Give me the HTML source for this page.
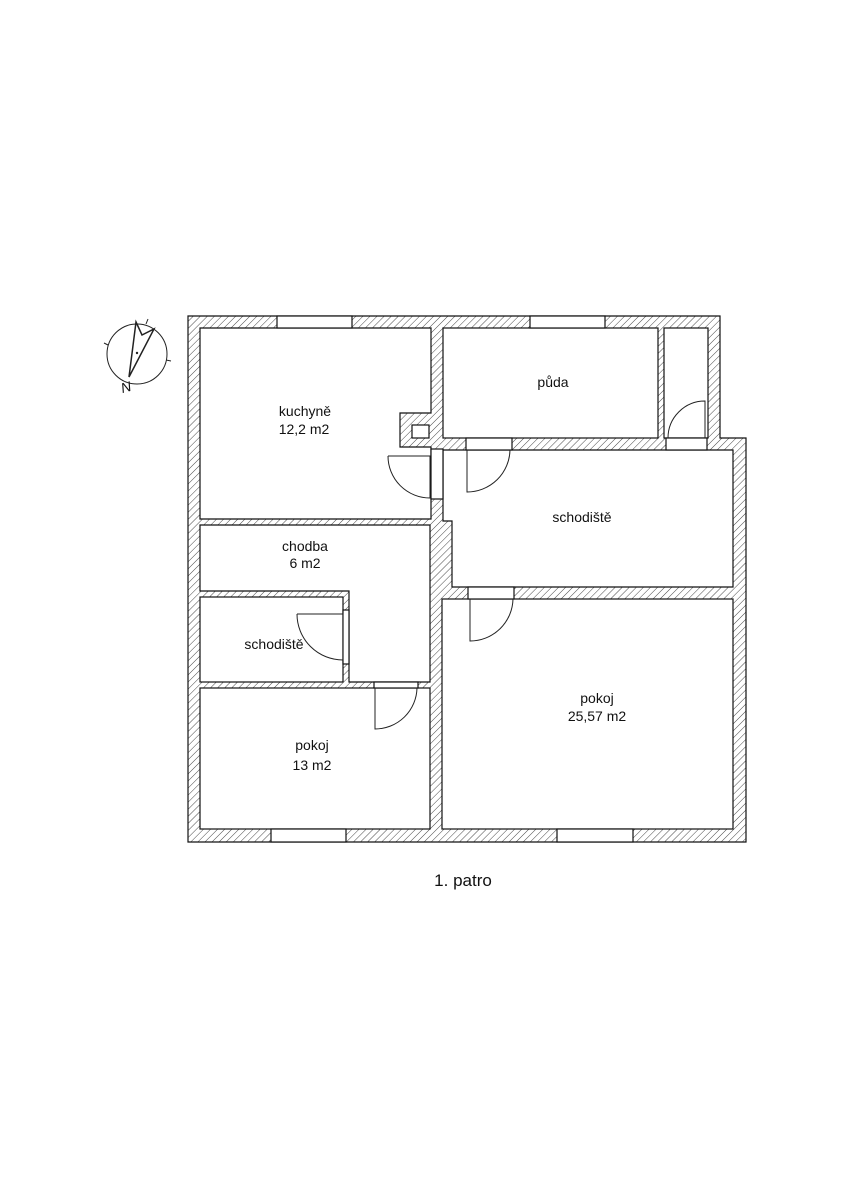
<!DOCTYPE html>
<html><head><meta charset="utf-8"><style>
html,body{margin:0;padding:0;background:#fff;width:848px;height:1200px;overflow:hidden}
svg{display:block}
text{font-family:"Liberation Sans",sans-serif;fill:#111}
</style></head><body>
<svg width="848" height="1200" viewBox="0 0 848 1200" xmlns="http://www.w3.org/2000/svg">
<defs>
<pattern id="h" patternUnits="userSpaceOnUse" width="5" height="5" patternTransform="rotate(45)">
<rect width="5" height="5" fill="#fff"/>
<line x1="0" y1="0" x2="0" y2="5" stroke="#333" stroke-width="0.9"/>
</pattern>
</defs>
<g stroke="#111" stroke-width="1.2">
<!-- outer -->
<polygon points="188,316 720,316 720,438 746,438 746,842 188,842" fill="url(#h)"/>
<!-- rooms -->
<polygon points="200,328 431,328 431,413 400,413 400,447 431,447 431,519 200,519" fill="#fff"/>
<rect x="412" y="425" width="17" height="13" fill="#fff"/>
<rect x="443" y="328" width="215" height="110" fill="#fff"/>
<rect x="664" y="328" width="44" height="110" fill="#fff"/>
<polygon points="443,450 733,450 733,587 452,587 452,521 443,521" fill="#fff"/>
<rect x="442" y="599" width="291" height="230" fill="#fff"/>
<polygon points="200,525 430,525 430,682 349,682 349,591 200,591" fill="#fff"/>
<rect x="200" y="597" width="143" height="85" fill="#fff"/>
<rect x="200" y="688" width="230" height="141" fill="#fff"/>
<!-- windows -->
<rect x="277" y="316" width="75" height="12" fill="#fff"/>
<rect x="530" y="316" width="75" height="12" fill="#fff"/>
<rect x="271" y="829" width="75" height="13" fill="#fff"/>
<rect x="557" y="829" width="76" height="13" fill="#fff"/>
<!-- door openings -->
<rect x="431" y="449" width="12" height="50" fill="#fff"/>
<rect x="466" y="438" width="46" height="12" fill="#fff"/>
<rect x="666" y="438" width="41" height="12" fill="#fff"/>
<rect x="468" y="587" width="46" height="12" fill="#fff"/>
<rect x="343" y="610" width="6" height="54" fill="#fff"/>
<rect x="374" y="682" width="44" height="6" fill="#fff"/>
</g>
<!-- doors -->
<g stroke="#222" stroke-width="1" fill="none">
<path d="M388,456 L430,456 L430,498 A42,42 0 0 1 388,456"/>
<path d="M467,450 L467,492 A43,43 0 0 0 510,450"/>
<path d="M705,438 L705,401 A37,37 0 0 0 668,438"/>
<path d="M470,599 L470,641 A43,43 0 0 0 513,599"/>
<path d="M297,614 L343,614 L343,660 A46,46 0 0 1 297,614"/>
<path d="M375,688 L375,729 A42,42 0 0 0 417,688"/>
</g>
<!-- compass -->
<g stroke="#222" fill="none" stroke-width="1">
<circle cx="137" cy="354" r="30"/>
<line x1="146" y1="324" x2="148" y2="319"/>
<line x1="108" y1="345" x2="104" y2="343"/>
<line x1="166" y1="360" x2="171" y2="361"/>
<polygon points="136,322 142,335 154,329 129,377" stroke-width="1.5"/>
</g>
<circle cx="137" cy="353" r="1.2" fill="#222"/>
<text x="126" y="392" font-size="14" font-style="italic" text-anchor="middle" transform="rotate(-15 126 387)">N</text>
<!-- labels -->
<g font-size="14" text-anchor="middle">
<text x="305" y="416">kuchyně</text>
<text x="304" y="434">12,2 m2</text>
<text x="553" y="387">půda</text>
<text x="582" y="522">schodiště</text>
<text x="305" y="551">chodba</text>
<text x="305" y="568">6 m2</text>
<text x="274" y="649">schodiště</text>
<text x="312" y="750">pokoj</text>
<text x="312" y="770">13 m2</text>
<text x="597" y="703">pokoj</text>
<text x="597" y="721">25,57 m2</text>
</g>
<text x="463" y="886" font-size="17" text-anchor="middle">1. patro</text>
</svg>
</body></html>
